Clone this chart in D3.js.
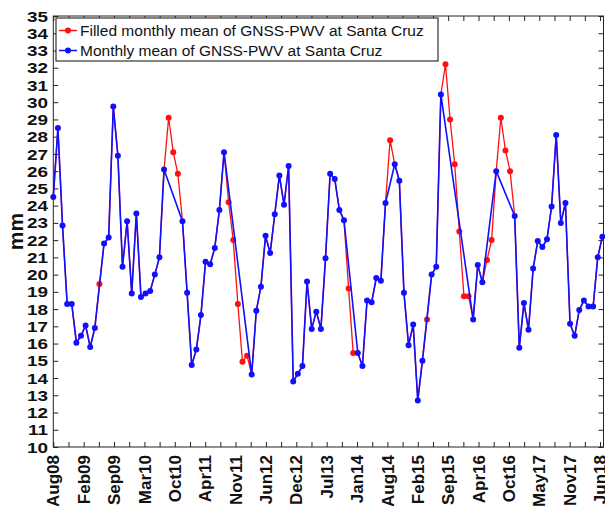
<!DOCTYPE html>
<html>
<head>
<meta charset="utf-8">
<script src="https://cdn.jsdelivr.net/npm/d3@7"></script>
<style>
  html, body { margin: 0; padding: 0; background: #fff; }
  svg { display: block; font-family: "Liberation Sans", Arial, Helvetica, sans-serif; }
</style>
</head>
<body>
<svg id="chart" width="605" height="506"></svg>
<script>
// ---- data ----
const startYear = 2008, startMonth = 7; // Aug 2008 (0-based month)
const monthNames = ["Jan","Feb","Mar","Apr","May","Jun","Jul","Aug","Sep","Oct","Nov","Dec"];

// Monthly mean PWV (mm), Aug08 .. Jul18 (filled values included)
const pwvValues = [
  24.5, 28.5, 22.85, 18.3, 18.3, 16.05, 16.45, 17.05, 15.8, 16.9,
  19.45, 21.8, 22.15, 29.75, 26.9, 20.45, 23.1, 18.9, 23.55, 18.7,
  18.9, 19.05, 20.0, 21.0, 26.1, 29.1, 27.1, 25.85, 23.1, 18.95,
  14.75, 15.65, 17.65, 20.75, 20.6, 21.55, 23.75, 27.1, 24.2, 22.0,
  18.3, 14.95, 15.3, 14.2, 17.9, 19.3, 22.25, 21.25, 23.5, 25.75,
  24.05, 26.3, 13.8, 14.25, 14.7, 19.6, 16.85, 17.85, 16.85, 20.95,
  25.85, 25.55, 23.75, 23.15, 19.2, 15.45, 15.45, 14.7, 18.5, 18.4,
  19.8, 19.65, 24.15, 27.8, 26.4, 25.45, 18.95, 15.9, 17.1, 12.7,
  15.0, 17.4, 20.0, 20.45, 30.45, 32.2, 29.0, 26.4, 22.5, 18.75,
  18.75, 17.4, 20.55, 19.55, 20.85, 22.0, 26.0, 29.1, 27.2, 26.0,
  23.4, 15.75, 18.35, 16.8, 20.35, 21.95, 21.6, 22.05, 23.95, 28.1,
  23.0, 24.15, 17.15, 16.45, 17.95, 18.5, 18.15, 18.15, 21.0, 22.2
];

// Months whose value was filled (missing in the original monthly series)
const filledMonths = [
  "Jun09", "Sep10", "Oct10", "Nov10",
  "Oct11", "Nov11", "Dec11", "Jan12", "Feb12",
  "Dec13", "Jan14", "Sep14", "May15",
  "Sep15", "Oct15", "Nov15", "Dec15", "Jan16", "Feb16",
  "Jun16", "Jul16", "Sep16", "Oct16", "Nov16"
];

// x tick labels (evenly spaced date ticks)
const xTickLabels = ["Aug08","Feb09","Sep09","Mar10","Oct10","Apr11","Nov11","Jun12","Dec12",
  "Jul13","Jan14","Aug14","Feb15","Sep15","Apr16","Oct16","May17","Nov17","Jun18"];
const yTicks = d3.range(10, 36, 1);

const seriesNames = ["Filled monthly mean of GNSS-PWV at Santa Cruz",
                     "Monthly mean of GNSS-PWV at Santa Cruz"];
const seriesColors = ["#ff1010", "#1010ff"];

// ---- build records ----
const records = pwvValues.map((v, i) => {
  const m = (startMonth + i) % 12;
  const y = startYear + Math.floor((startMonth + i) / 12);
  const label = monthNames[m] + String(y % 100).padStart(2, "0");
  return { idx: i, label, value: v, filled: filledMonths.includes(label) };
});
const observed = records.filter(d => !d.filled);

// ---- layout ----
const svg = d3.select("#chart");
const plot = { left: 53.3, right: 603.5, top: 16, bottom: 447 };
const xEnd = 119.25;      // axis extent in month units
const tickSpan = 118.5;   // extent covered by date ticks, month units

const x = d3.scaleLinear().domain([0, xEnd]).range([plot.left, plot.right]);
const y = d3.scaleLinear().domain([10, 35]).range([plot.bottom, plot.top]);

const majorTickVals = xTickLabels.map((_, k) => k * tickSpan / (xTickLabels.length - 1));
const minorTickVals = d3.range(0, xTickLabels.length - 1).map(k => (k + 0.5) * tickSpan / (xTickLabels.length - 1));
const allXTicks = majorTickVals.concat(minorTickVals);

const axisColor = "#222";
const tickLen = 5;

// bottom axis
const gx = svg.append("g").attr("transform", `translate(0,${plot.bottom})`)
  .call(d3.axisBottom(x).tickValues(allXTicks).tickSize(-tickLen).tickFormat(""));
gx.select(".domain").remove();
gx.selectAll(".tick line").attr("stroke", axisColor);

// top axis (mirror ticks)
const gxt = svg.append("g").attr("transform", `translate(0,${plot.top})`)
  .call(d3.axisTop(x).tickValues(allXTicks).tickSize(-tickLen).tickFormat(""));
gxt.select(".domain").remove();
gxt.selectAll(".tick line").attr("stroke", axisColor);

// left axis
const gy = svg.append("g").attr("transform", `translate(${plot.left},0)`)
  .call(d3.axisLeft(y).tickValues(yTicks).tickSize(-tickLen).tickFormat(""));
gy.select(".domain").remove();
gy.selectAll(".tick line").attr("stroke", axisColor);

// right axis
const gyr = svg.append("g").attr("transform", `translate(${plot.right},0)`)
  .call(d3.axisRight(y).tickValues(yTicks).tickSize(-tickLen).tickFormat(""));
gyr.select(".domain").remove();
gyr.selectAll(".tick line").attr("stroke", axisColor);

// y tick labels
svg.append("g").selectAll("text").data(yTicks).join("text")
  .attr("transform", d => `translate(48,${y(d)}) scale(1.22,1)`)
  .attr("text-anchor", "end")
  .attr("dy", "0.36em")
  .attr("font-size", "15.5px")
  .attr("font-weight", "bold")
  .attr("fill", "#111")
  .text(d => d);

// x tick labels
svg.append("g").selectAll("text").data(xTickLabels).join("text")
  .attr("transform", (d, k) => `translate(${x(majorTickVals[k])},455) rotate(-90)`)
  .attr("text-anchor", "end")
  .attr("dy", "0.36em")
  .attr("font-size", "17px")
  .attr("font-weight", "bold")
  .attr("fill", "#111")
  .text(d => d);

// y axis title
svg.append("text")
  .attr("transform", `translate(15,${(plot.top + plot.bottom) / 2}) rotate(-90)`)
  .attr("text-anchor", "middle")
  .attr("dy", "0.36em")
  .attr("font-size", "21px")
  .attr("font-weight", "bold")
  .attr("fill", "#111")
  .text("mm");

// ---- series ----
const line = d3.line().x(d => x(d.idx)).y(d => y(d.value));

// filled (full) series, red, underneath
svg.append("path").datum(records)
  .attr("d", line).attr("fill", "none")
  .attr("stroke", seriesColors[0]).attr("stroke-width", 1.3);
svg.append("g").selectAll("circle").data(records.filter(d => d.filled)).join("circle")
  .attr("cx", d => x(d.idx)).attr("cy", d => y(d.value)).attr("r", 3)
  .attr("fill", seriesColors[0]);

// observed series, blue, on top
svg.append("path").datum(observed)
  .attr("d", line).attr("fill", "none")
  .attr("stroke", seriesColors[1]).attr("stroke-width", 1.6);
svg.append("g").selectAll("circle").data(observed).join("circle")
  .attr("cx", d => x(d.idx)).attr("cy", d => y(d.value)).attr("r", 3)
  .attr("fill", seriesColors[1]);

// plot box
svg.append("rect")
  .attr("x", plot.left).attr("y", plot.top)
  .attr("width", plot.right - plot.left).attr("height", plot.bottom - plot.top)
  .attr("fill", "none").attr("stroke", axisColor).attr("stroke-width", 1);

// ---- legend ----
const lg = svg.append("g").attr("transform", "translate(56,18)");
lg.append("rect").attr("width", 382).attr("height", 43)
  .attr("fill", "#fff").attr("stroke", "#333").attr("stroke-width", 1.2);
seriesNames.forEach((name, i) => {
  const cy = 12.5 + i * 20;
  lg.append("line").attr("x1", 3).attr("x2", 21).attr("y1", cy).attr("y2", cy)
    .attr("stroke", seriesColors[i]).attr("stroke-width", 1.5);
  lg.append("circle").attr("cx", 12).attr("cy", cy).attr("r", 3).attr("fill", seriesColors[i]);
  lg.append("text").attr("x", 24).attr("y", cy).attr("dy", "0.36em")
    .attr("font-size", "15.5px").attr("fill", "#111").text(name);
});
</script>
</body>
</html>
